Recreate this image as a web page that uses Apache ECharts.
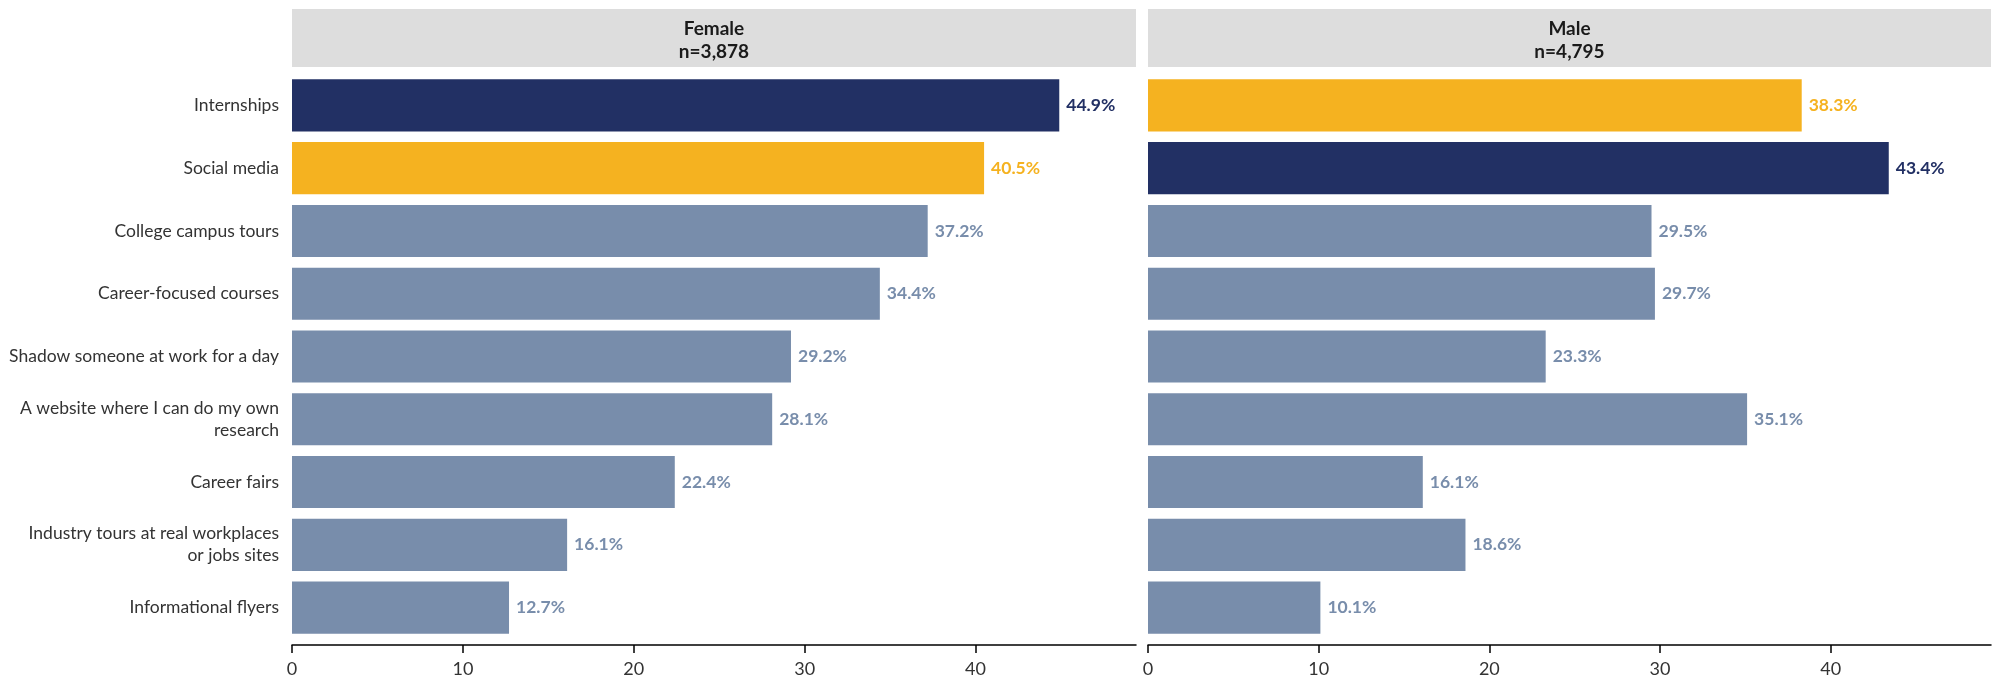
<!DOCTYPE html>
<html>
<head>
<meta charset="utf-8">
<script src="https://cdn.jsdelivr.net/npm/echarts@6/dist/echarts.min.js"></script>
<style>
  html, body { margin: 0; padding: 0; background: #fff; }
  #chart { width: 2000px; height: 679px; }
</style>
</head>
<body>
<div id="chart"></div>
<script>
// data
const categories = [
  'Internships',
  'Social media',
  'College campus tours',
  'Career-focused courses',
  'Shadow someone at work for a day',
  'A website where I can do my own\nresearch',
  'Career fairs',
  'Industry tours at real workplaces\nor jobs sites',
  'Informational flyers'
]
const femaleValues = [44.9, 40.5, 37.2, 34.4, 29.2, 28.1, 22.4, 16.1, 12.7]
const maleValues = [38.3, 43.4, 29.5, 29.7, 23.3, 35.1, 16.1, 18.6, 10.1]
const panelTitles = ['Female\nn=3,878', 'Male\nn=4,795']
const xTicks = [0, 10, 20, 30, 40]

const NAVY = '#223064'
const GOLD = '#F5B220'
const GREY = '#788DAB'
const FONT = 'Lato'

// top answer navy, runner-up gold, the rest grey
function colorsFor (values) {
  const sorted = [...values].sort((a, b) => b - a)
  return values.map((v) => {
    if (v === sorted[0]) return NAVY
    if (v === sorted[1]) return GOLD
    return GREY
  })
}

function barSeries (values, idx) {
  const colors = colorsFor(values)
  return {
    type: 'bar',
    xAxisIndex: idx,
    yAxisIndex: idx,
    barWidth: '83%',
    data: values.map((v, i) => ({
      value: v,
      itemStyle: { color: colors[i] },
      label: { color: colors[i] }
    })),
    label: {
      show: true,
      position: 'right',
      distance: 7,
      fontFamily: FONT,
      fontSize: 17.5,
      fontWeight: 'bold',
      formatter: (p) => p.value.toFixed(1) + '%'
    },
    silent: true
  }
}

const panels = [
  { left: 292, width: 844 },
  { left: 1148, width: 843 }
]
const xMax = 49.39

const chart = echarts.init(document.getElementById('chart'), null, { renderer: 'canvas' })

chart.setOption({
  backgroundColor: '#fff',
  animation: false,
  grid: panels.map((p) => ({
    left: p.left,
    width: p.width,
    top: 74,
    height: 565
  })),
  xAxis: panels.map((p, i) => ({
    type: 'value',
    gridIndex: i,
    min: 0,
    max: xMax,
    interval: 10,
    offset: 6,
    axisLine: { show: true, lineStyle: { color: '#000', width: 1.5 } },
    axisTick: { show: true, length: 8, lineStyle: { color: '#000', width: 1.5 }, customValues: xTicks },
    axisLabel: { fontFamily: FONT, fontSize: 18, color: '#333', margin: 15, customValues: xTicks },
    splitLine: { show: false }
  })),
  yAxis: panels.map((p, i) => ({
    type: 'category',
    gridIndex: i,
    data: categories,
    inverse: true,
    axisLine: { show: false },
    axisTick: { show: false },
    axisLabel: {
      show: i === 0,
      fontFamily: FONT,
      fontSize: 17.5,
      color: '#333',
      margin: 13,
      lineHeight: 22,
      align: 'right'
    }
  })),
  graphic: panels.map((p, i) => ({
    type: 'group',
    left: p.left,
    top: 9,
    children: [
      {
        type: 'rect',
        shape: { x: 0, y: 0, width: p.width, height: 58 },
        style: { fill: '#DDDDDD' }
      },
      {
        type: 'text',
        x: p.width / 2,
        y: 31,
        style: {
          text: panelTitles[i],
          fontFamily: FONT,
          fontSize: 19,
          fontWeight: 'bold',
          fill: '#1a1a1a',
          align: 'center',
          verticalAlign: 'middle',
          lineHeight: 23
        }
      }
    ]
  })),
  series: [
    barSeries(femaleValues, 0),
    barSeries(maleValues, 1)
  ]
})
</script>
</body>
</html>
